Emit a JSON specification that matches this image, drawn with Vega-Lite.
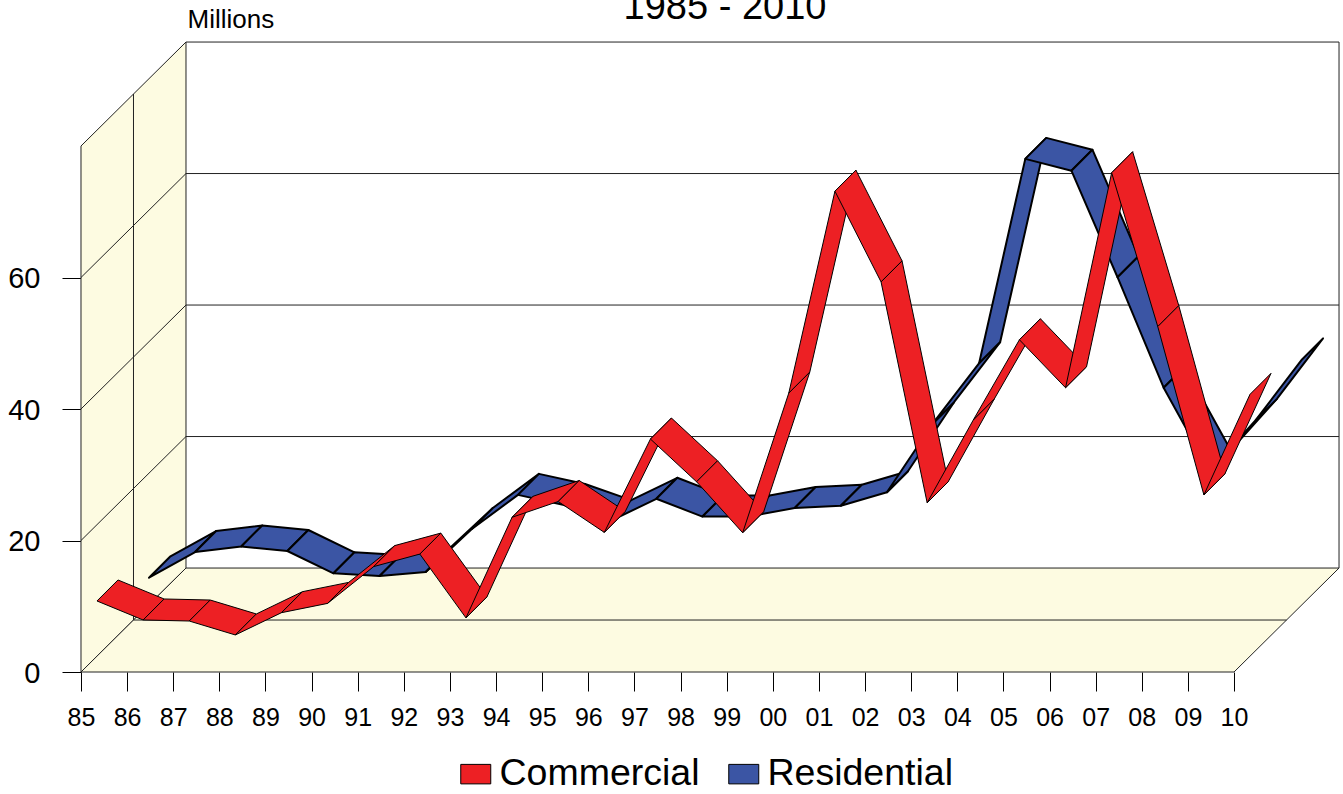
{"$schema":"https://vega.github.io/schema/vega-lite/v6.json","width":1343,"height":752,"autosize":{"type":"none"},"padding":{"left":0,"top":42,"right":0,"bottom":0},"background":"white","view":{"stroke":null},"config":{"font":"Liberation Sans"},
"datasets":{
"heading":[{"label":"1985 - 2010","px":1998.964,"py":99.32}],
"series":[
{"series":"Residential","year":1985,"value":4.0},{"series":"Residential","year":1986,"value":7.9},{"series":"Residential","year":1987,"value":8.75},{"series":"Residential","year":1988,"value":8.06},{"series":"Residential","year":1989,"value":4.67},{"series":"Residential","year":1990,"value":4.26},{"series":"Residential","year":1991,"value":4.87},{"series":"Residential","year":1992,"value":11.4},{"series":"Residential","year":1993,"value":16.6},{"series":"Residential","year":1994,"value":15.06},{"series":"Residential","year":1995,"value":12.6},{"series":"Residential","year":1996,"value":16.0},{"series":"Residential","year":1997,"value":13.3},{"series":"Residential","year":1998,"value":13.3},{"series":"Residential","year":1999,"value":14.6},{"series":"Residential","year":2000,"value":14.95},{"series":"Residential","year":2001,"value":17.0},{"series":"Residential","year":2002,"value":27.5},{"series":"Residential","year":2003,"value":36.65},{"series":"Residential","year":2004,"value":67.7},{"series":"Residential","year":2005,"value":65.9},{"series":"Residential","year":2006,"value":49.7},{"series":"Residential","year":2007,"value":32.9},{"series":"Residential","year":2008,"value":20.2},{"series":"Residential","year":2009,"value":28.0},{"series":"Residential","year":2010,"value":37.2},
{"series":"Commercial","year":1985,"value":8.37},{"series":"Commercial","year":1986,"value":5.48},{"series":"Commercial","year":1987,"value":5.32},{"series":"Commercial","year":1988,"value":3.2},{"series":"Commercial","year":1989,"value":6.59},{"series":"Commercial","year":1990,"value":8.0},{"series":"Commercial","year":1991,"value":13.6},{"series":"Commercial","year":1992,"value":15.5},{"series":"Commercial","year":1993,"value":5.8},{"series":"Commercial","year":1994,"value":21.1},{"series":"Commercial","year":1995,"value":23.5},{"series":"Commercial","year":1996,"value":18.8},{"series":"Commercial","year":1997,"value":33.0},{"series":"Commercial","year":1998,"value":26.5},{"series":"Commercial","year":1999,"value":18.75},{"series":"Commercial","year":2000,"value":40.0},{"series":"Commercial","year":2001,"value":70.7},{"series":"Commercial","year":2002,"value":56.9},{"series":"Commercial","year":2003,"value":23.3},{"series":"Commercial","year":2004,"value":35.9},{"series":"Commercial","year":2005,"value":48.1},{"series":"Commercial","year":2006,"value":40.8},{"series":"Commercial","year":2007,"value":73.5},{"series":"Commercial","year":2008,"value":50.1},{"series":"Commercial","year":2009,"value":24.5},{"series":"Commercial","year":2010,"value":39.8}
],
"planes":[
{"part":"left","seq":0,"year":1985,"value":0,"depth":0},{"part":"left","seq":1,"year":1985,"value":80,"depth":0},{"part":"left","seq":2,"year":1985,"value":80,"depth":105},{"part":"left","seq":3,"year":1985,"value":0,"depth":105},
{"part":"floor","seq":0,"year":1985,"value":0,"depth":0},{"part":"floor","seq":1,"year":2010,"value":0,"depth":0},{"part":"floor","seq":2,"year":2010,"value":0,"depth":105},{"part":"floor","seq":3,"year":1985,"value":0,"depth":105}
],
"lines":[
{"line":"backtop","seq":0,"year":1985,"value":80,"depth":105},{"line":"backtop","seq":1,"year":2010,"value":80,"depth":105},
{"line":"backright","seq":0,"year":2010,"value":80,"depth":105},{"line":"backright","seq":1,"year":2010,"value":0,"depth":105},
{"line":"b20","seq":0,"year":1985,"value":20,"depth":105},{"line":"b20","seq":1,"year":2010,"value":20,"depth":105},
{"line":"b40","seq":0,"year":1985,"value":40,"depth":105},{"line":"b40","seq":1,"year":2010,"value":40,"depth":105},
{"line":"b60","seq":0,"year":1985,"value":60,"depth":105},{"line":"b60","seq":1,"year":2010,"value":60,"depth":105},
{"line":"l20","seq":0,"year":1985,"value":20,"depth":0},{"line":"l20","seq":1,"year":1985,"value":20,"depth":105},
{"line":"l40","seq":0,"year":1985,"value":40,"depth":0},{"line":"l40","seq":1,"year":1985,"value":40,"depth":105},
{"line":"l60","seq":0,"year":1985,"value":60,"depth":0},{"line":"l60","seq":1,"year":1985,"value":60,"depth":105},
{"line":"wallmid","seq":0,"year":1985,"value":0,"depth":52.5},{"line":"wallmid","seq":1,"year":1985,"value":80,"depth":52.5},
{"line":"floormid","seq":0,"year":1985,"value":0,"depth":52.5},{"line":"floormid","seq":1,"year":2010,"value":0,"depth":52.5}
]
},
"layer":[
{"data":{"name":"planes"},
"transform":[{"calculate":"datum.year+datum.depth/46.12","as":"px"},{"calculate":"datum.value+datum.depth/6.64","as":"py"}],
"mark":{"type":"line","interpolate":"linear-closed","stroke":"#222222","strokeWidth":1,"fill":"#FDFBE1"},
"encoding":{
"x":{"field":"px","type":"quantitative","scale":{"domain":[1983.244,2012.363],"nice":false,"zero":false},"axis":{"orient":"bottom","offset":-122,"title":null,"domain":false,"grid":false,"values":[1985,1986,1987,1988,1989,1990,1991,1992,1993,1994,1995,1996,1997,1998,1999,2000,2001,2002,2003,2004,2005,2006,2007,2008,2009,2010],"labelExpr":"format(datum.value%100,'02d')","tickSize":19,"tickColor":"#000000","tickWidth":1,"labelFont":"Liberation Sans","labelFontSize":25,"labelColor":"#000000","labelPadding":14,"labelOverlap":false,"labelFlush":false}},
"y":{"field":"py","type":"quantitative","scale":{"domain":[-18.555,95.82],"nice":false,"zero":false},"axis":{"orient":"left","offset":-81,"title":"Millions","titleAngle":0,"titleX":106,"titleY":-15,"titleAlign":"left","titleBaseline":"alphabetic","titleFont":"Liberation Sans","titleFontSize":26,"titleFontWeight":"normal","titleColor":"#000000","domain":false,"grid":false,"values":[0,20,40,60],"format":"d","tickSize":19,"tickColor":"#000000","tickWidth":1,"labelFont":"Liberation Sans","labelFontSize":29,"labelColor":"#000000","labelPadding":22,"labelOffset":1}},
"detail":{"field":"part"},
"order":{"field":"seq","type":"quantitative"}
}},
{"data":{"name":"lines"},
"transform":[{"calculate":"datum.year+datum.depth/46.12","as":"px"},{"calculate":"datum.value+datum.depth/6.64","as":"py"}],
"mark":{"type":"line","stroke":"#222222","strokeWidth":1},
"encoding":{"x":{"field":"px","type":"quantitative"},"y":{"field":"py","type":"quantitative"},"detail":{"field":"line"},"order":{"field":"seq","type":"quantitative"}}},
{"data":{"name":"series"},
"transform":[{"filter":"datum.series=='Residential'"},{"window":[{"op":"lead","field":"value","as":"next"}],"groupby":["series"],"sort":[{"field":"year"}]},{"filter":"datum.next!=null"},{"calculate":"[0,1,2,3]","as":"corner"},{"flatten":["corner"]},{"calculate":"68+(datum.corner==1||datum.corner==2?21:0)","as":"depth"},{"calculate":"datum.year+(datum.corner>=2?1:0)+datum.depth/46.12","as":"px"},{"calculate":"(datum.corner>=2?datum.next:datum.value)+datum.depth/6.575","as":"py"}],
"mark":{"type":"line","interpolate":"linear-closed","stroke":"#000000","strokeWidth":2,"strokeJoin":"round"},
"encoding":{"x":{"field":"px","type":"quantitative"},"y":{"field":"py","type":"quantitative"},
"fill":{"field":"series","type":"nominal","scale":{"domain":["Commercial","Residential"],"range":["#ED2024","#3B55A4"]},"legend":{"title":null,"orient":"none","legendX":457,"legendY":713,"direction":"horizontal","columns":2,"symbolType":"M-1,-0.65H1V0.65H-1Z","symbolSize":900,"symbolStrokeColor":"#000000","symbolStrokeWidth":1,"symbolOpacity":1,"labelFont":"Liberation Sans","labelFontSize":37.5,"labelColor":"#000000","labelOffset":5,"columnPadding":25,"labelLimit":400}},
"detail":{"field":"year"},"order":{"field":"corner","type":"quantitative"}}},
{"data":{"name":"series"},
"transform":[{"filter":"datum.series=='Commercial'"},{"window":[{"op":"lead","field":"value","as":"next"}],"groupby":["series"],"sort":[{"field":"year"}]},{"filter":"datum.next!=null"},{"calculate":"[0,1,2,3]","as":"corner"},{"flatten":["corner"]},{"calculate":"16+(datum.corner==1||datum.corner==2?21:0)","as":"depth"},{"calculate":"datum.year+(datum.corner>=2?1:0)+datum.depth/46.12","as":"px"},{"calculate":"(datum.corner>=2?datum.next:datum.value)+datum.depth/6.575","as":"py"}],
"mark":{"type":"line","interpolate":"linear-closed","stroke":"#000000","strokeWidth":1,"strokeJoin":"round"},
"encoding":{"x":{"field":"px","type":"quantitative"},"y":{"field":"py","type":"quantitative"},
"fill":{"field":"series","type":"nominal"},
"detail":{"field":"year"},"order":{"field":"corner","type":"quantitative"}}},
{"data":{"name":"heading"},
"mark":{"type":"text","font":"Liberation Sans","fontSize":38,"align":"center","baseline":"alphabetic","color":"#000000"},
"encoding":{"x":{"field":"px","type":"quantitative"},"y":{"field":"py","type":"quantitative"},"text":{"field":"label"}}}
]}
